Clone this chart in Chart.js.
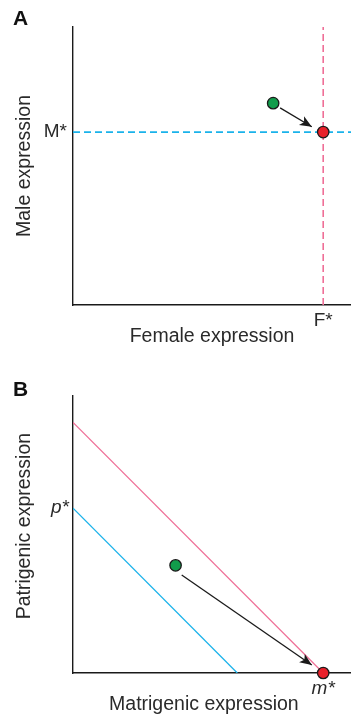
<!DOCTYPE html>
<html>
<head>
<meta charset="utf-8">
<script src="https://cdn.jsdelivr.net/npm/chart.js@4/dist/chart.umd.min.js"></script>
<style>
  body { margin: 0; background: #fff; }
  canvas { display: block; }
</style>
</head>
<body>
<canvas id="panelA" width="351" height="357"></canvas>
<canvas id="panelB" width="351" height="358"></canvas>
<script>
// ---- data (axis units run 0..10 on both axes) ----

// panel A: female / male expression
const aTickLabels = ["F*", "M*"];
const aOptimum = [9.0, 6.22];      // F*, M*  (red point)
const aStart = [7.2, 7.26];        // green point
const aArrowX = [7.45, 8.59];
const aArrowY = [7.09, 6.41];

// panel B: matrigenic / patrigenic expression
const bTickLabels = ["m*", "p*"];
const bOptimum = [9.0, 0];         // red point on the m axis
const bTickValues = [9.0, 5.94];   // m*, p*
const bPinkX = [0, 9.0];
const bPinkY = [9.03, 0];
const bBlueX = [0, 5.91];
const bBlueY = [5.94, 0];
const bStart = [3.69, 3.88];       // green point
const bArrowX = [3.91, 8.59];
const bArrowY = [3.53, 0.29];

// ---- styles ----
const ink = "#2a2a2a";
const family = "'Liberation Sans', Arial, Helvetica, sans-serif";
const blue = "#1ab2ea";
const pink = "#ef6f97";
const green = "#119c4b";
const red = "#e8202a";

function pts(xs, ys) {
    var out = [];
    for (var i = 0; i < xs.length; i++) {
        out.push({ x: xs[i], y: ys[i] });
    }
    return out;
}

function dot(xy, color) {
    return {
        data: [{ x: xy[0], y: xy[1] }],
        pointRadius: 5.7,
        pointBackgroundColor: color,
        pointBorderColor: "#1a1a1a",
        pointBorderWidth: 1.3,
        clip: false
    };
}

function line(data, color, dash, arrow) {
    return {
        data: data,
        showLine: true,
        borderColor: color,
        borderWidth: dash ? 1.6 : 1.3,
        borderDash: dash || [],
        pointRadius: 0,
        arrow: !!arrow
    };
}

// one tick only, placed at the given value
function axis(o) {
    return {
        type: "linear",
        min: 0,
        max: 10,
        grid: { display: false, drawTicks: false },
        border: { display: true, color: "#1a1a1a", width: 1.4 },
        ticks: {
            padding: o.tickPad,
            color: ink,
            maxRotation: 0,
            autoSkip: false,
            font: { family: family, size: 19, style: o.italic ? "italic" : "normal" },
            callback: () => o.label
        },
        afterBuildTicks: s => { s.ticks = [{ value: o.value }]; },
        afterFit: s => {
            // fixed box size, no extra room for label overflow
            if (s.isHorizontal()) s.height = o.size;
            else s.width = o.size;
            s.paddingLeft = s.paddingRight = s.paddingTop = s.paddingBottom = 0;
        },
        title: {
            display: true,
            text: o.title,
            color: ink,
            font: { family: family, size: 19.5, lineHeight: o.titleLH || 1.2 },
            padding: o.titlePad
        }
    };
}

// filled arrow head at the end of datasets flagged with arrow: true
const arrowHeads = {
    id: "arrowHeads",
    afterDatasetsDraw(chart) {
        const ctx = chart.ctx;
        chart.data.datasets.forEach((ds, i) => {
            if (!ds.arrow) return;
            const el = chart.getDatasetMeta(i).data;
            const p0 = el[el.length - 2], p1 = el[el.length - 1];
            const ang = Math.atan2(p1.y - p0.y, p1.x - p0.x);
            ctx.save();
            ctx.translate(p1.x, p1.y);
            ctx.rotate(ang);
            ctx.fillStyle = "#1a1a1a";
            ctx.beginPath();
            ctx.moveTo(0, 0);
            ctx.lineTo(-12, -5);
            ctx.lineTo(-9, 0);
            ctx.lineTo(-12, 5);
            ctx.closePath();
            ctx.fill();
            ctx.restore();
        });
    }
};

function panelTitle(text, lh) {
    return {
        display: true,
        text: text,
        align: "start",
        color: "#111",
        padding: { top: 0, bottom: 0 },
        font: { family: family, size: 21, weight: "bold", lineHeight: lh }
    };
}

const common = {
    responsive: false,
    animation: false,
    events: [],
    plugins: { legend: { display: false }, tooltip: { enabled: false } }
};

new Chart(document.getElementById("panelA"), {
    type: "scatter",
    data: {
        datasets: [
            dot(aStart, green),
            dot(aOptimum, red),
            line(pts(aArrowX, aArrowY), "#1a1a1a", null, true),
            line(pts([0, 10], [aOptimum[1], aOptimum[1]]), blue, [7, 4]),
            line(pts([aOptimum[0], aOptimum[0]], [0, 10]), pink, [7, 4])
        ]
    },
    options: Object.assign({}, common, {
        layout: { autoPadding: false, padding: { left: 13, top: 12, right: 0, bottom: 0 } },
        plugins: Object.assign({}, common.plugins, { title: panelTitle("A", "15px") }),
        scales: {
            x: axis({ value: aOptimum[0], label: aTickLabels[0], size: 52, tickPad: 4,
                      title: "Female expression", titlePad: { top: 0, bottom: 8.6 } }),
            y: axis({ value: aOptimum[1], label: aTickLabels[1], size: 60, tickPad: 6,
                      title: "Male expression", titlePad: { top: 0, bottom: 0 } })
        }
    }),
    plugins: [arrowHeads]
});

new Chart(document.getElementById("panelB"), {
    type: "scatter",
    data: {
        datasets: [
            dot(bStart, green),
            dot(bOptimum, red),
            line(pts(bArrowX, bArrowY), "#1a1a1a", null, true),
            line(pts(bPinkX, bPinkY), pink),
            line(pts(bBlueX, bBlueY), blue)
        ]
    },
    options: Object.assign({}, common, {
        layout: { autoPadding: false, padding: { left: 13, top: 27.5, right: 0, bottom: 0 } },
        plugins: Object.assign({}, common.plugins, { title: panelTitle("B", "11px") }),
        scales: {
            x: axis({ value: bTickValues[0], label: bTickLabels[0], size: 42, tickPad: 4, italic: true,
                      title: "Matrigenic expression   ", titleLH: 1.0, titlePad: { top: 0, bottom: 0.5 } }),
            y: axis({ value: bTickValues[1], label: bTickLabels[1], size: 60, tickPad: 4, italic: true,
                      title: "   Patrigenic expression", titlePad: { top: 0, bottom: 0 } })
        }
    }),
    plugins: [arrowHeads]
});
</script>
</body>
</html>
